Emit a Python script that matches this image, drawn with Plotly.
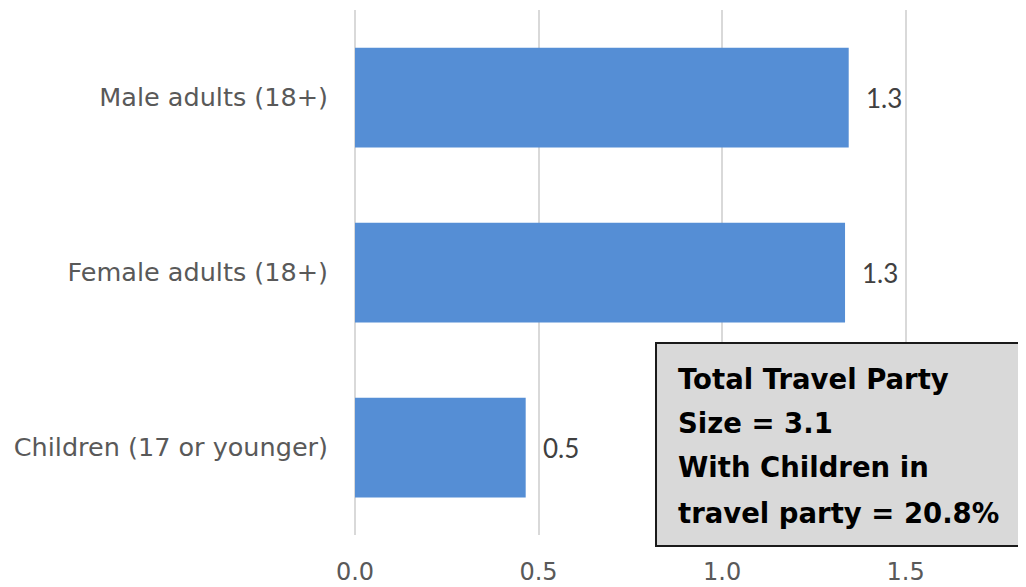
import plotly.graph_objects as go

categories = ["Male adults (18+)", "Female adults (18+)", "Children (17 or younger)"]
values = [1.345, 1.335, 0.465]
labels = ["1.3", "1.3", "0.5"]
tick_vals = [0.0, 0.5, 1.0, 1.5]
tick_text = ["0.0", "0.5", "1.0", "1.5"]
box_lines = ["Total Travel Party", "Size = 3.1", "With Children in", "travel party = 20.8%"]

fig = go.Figure()
fig.add_trace(go.Bar(
    y=categories, x=values, orientation="h",
    marker=dict(color="#558ED5", line=dict(width=0)),
    width=0.57,
))

for c, v, t in zip(categories, values, labels):
    fig.add_annotation(x=v, y=c, text=t, showarrow=False, xanchor="left",
                       xshift=15, font=dict(family="Lato", size=26, color="#404040"))

fig.add_shape(type="rect", xref="paper", yref="paper",
              x0=0.4486, x1=0.9985, y0=-0.021, y1=0.3657,
              fillcolor="#D9D9D9", line=dict(color="#1a1a1a", width=2), layer="above")

line_px = [379, 423, 467, 513]
for txt, py in zip(box_lines, line_px):
    fig.add_annotation(xref="paper", yref="paper", x=(676 - 355) / 671, y=(535 - py) / 525,
                       text="<b>" + txt + "</b>", showarrow=False, xanchor="left", yanchor="middle",
                       font=dict(family="DejaVu Sans", size=27.5, color="#000000"))

fig.update_layout(
    width=1018, height=579,
    margin=dict(l=347, r=0, t=2, b=52),
    paper_bgcolor="white", plot_bgcolor="white",
    showlegend=False, bargap=0.43,
    xaxis=dict(range=[0, 1.828], tickvals=tick_vals, ticktext=tick_text,
               showgrid=True, gridcolor="#D9D9D9", gridwidth=2,
               zeroline=True, zerolinecolor="#D9D9D9", zerolinewidth=2,
               showline=False, ticklabelstandoff=20,
               tickfont=dict(family="DejaVu Sans", size=24, color="#595959")),
    yaxis=dict(autorange="reversed", showgrid=False, showline=False, zeroline=False,
               ticklabelstandoff=26,
               tickfont=dict(family="DejaVu Sans", size=25.5, color="#595959")),
)

fig.write_html("out.html")
